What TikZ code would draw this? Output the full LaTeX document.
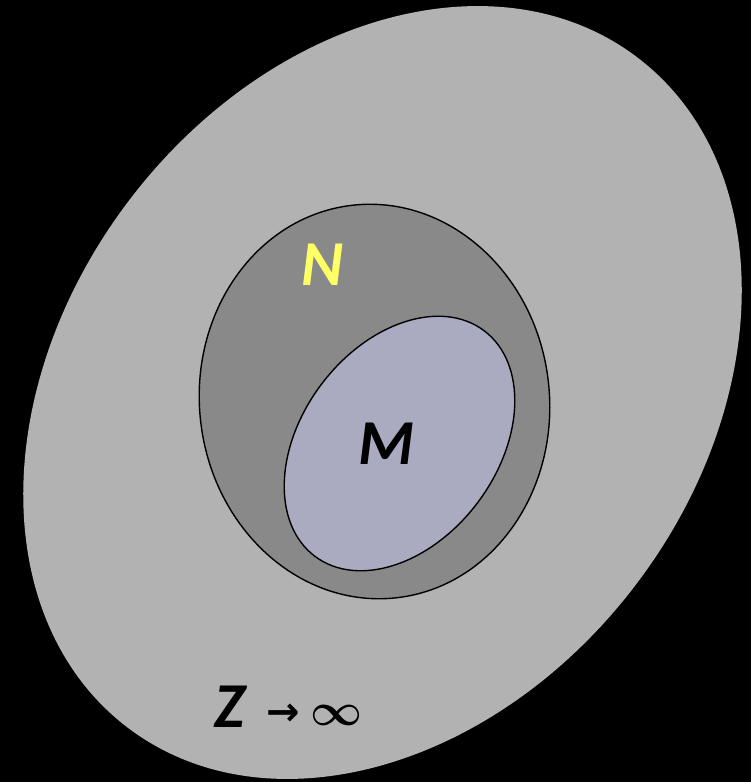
\documentclass[tikz,border=0pt]{standalone}
\usepackage{graphicx}
\usepackage{fontspec}
\setmainfont{Carlito}
\newfontfamily\djv{DejaVu Sans}
\definecolor{outergray}{RGB}{178,178,178}
\definecolor{ngray}{RGB}{137,137,137}
\definecolor{mlav}{RGB}{170,170,192}
\definecolor{nyellow}{RGB}{255,255,102}
\begin{document}
\begin{tikzpicture}[x=1pt,y=-1pt,
  setline/.style={draw=black,line width=1.4pt},
  biglabel/.style={font=\fontsize{64}{64}\selectfont\bfseries\itshape,inner sep=0pt,anchor=base}]
\fill[black] (0,0) rectangle (751,782);
\useasboundingbox (0,0) rectangle (751,782);
% outer set
\fill[outergray,rotate around={52.7:(382.5,392.5)}] (382.5,392.5) ellipse [x radius=421pt, y radius=318pt];
% N
\filldraw[fill=ngray,setline,rotate around={6.3:(374.5,401.5)}] (374.5,401.5) ellipse [x radius=175pt, y radius=197.5pt];
% M
\filldraw[fill=mlav,setline,rotate around={53.2:(399.5,443.5)}] (399.5,443.5) ellipse [x radius=141pt, y radius=98pt];
\node[biglabel,text=nyellow] (n) at (322,285) {N};
\node[biglabel,text=black] (m) at (386,464) {M};
\node[biglabel,text=black,anchor=base west] (z) at (214,727) {Z};
\node[inner sep=0pt,anchor=base,font=\djv\bfseries\fontsize{40}{40}\selectfont] (arr) at (283,725) {→};
\node[inner sep=0pt,anchor=south] (inf) at (337,726) {\resizebox{52pt}{!}{\boldmath$\infty$}};
\end{tikzpicture}
\end{document}
